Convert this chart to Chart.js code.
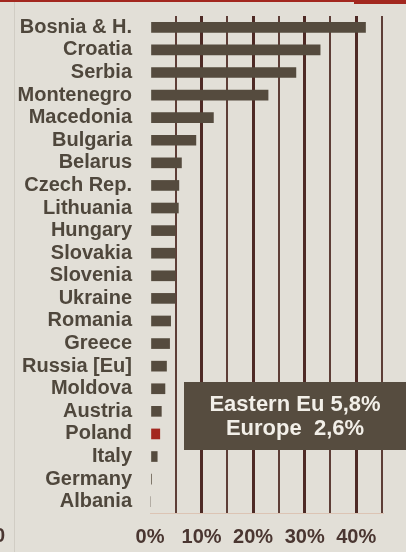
<!DOCTYPE html>
<html>
<head>
<meta charset="utf-8">
<script src="https://cdn.jsdelivr.net/npm/chart.js@4/dist/chart.umd.min.js"></script>
<style>
  html, body { margin: 0; padding: 0; background: #e2dfd7; overflow: hidden; }
  #wrap { position: relative; width: 406px; height: 552px; }
  canvas { display: block; }
</style>
</head>
<body>
<div id="wrap"><canvas id="c" width="406" height="552"></canvas></div>
<script>
const categories = ["Bosnia & H.", "Croatia", "Serbia", "Montenegro", "Macedonia", "Bulgaria",
  "Belarus", "Czech Rep.", "Lithuania", "Hungary", "Slovakia", "Slovenia", "Ukraine",
  "Romania", "Greece", "Russia [Eu]", "Moldova", "Austria", "Poland", "Italy", "Germany", "Albania"];
const values = [41.8, 33.0, 28.3, 22.9, 12.3, 8.9, 6.1, 5.6, 5.5, 4.9, 4.9, 4.9, 4.9,
  4.0, 3.8, 3.2, 2.9, 2.2, 1.9, 1.4, 0.3, 0];
const highlight = "Poland";
const boxLines = ["Eastern Eu 5,8%", "Europe  2,6%"];
const axisMax = 45;
const axisStep = 5;
const labelStep = 10;

const FONT = "'Liberation Sans', Arial, sans-serif";
const BG = "#e2dfd7";
const BAR = "#554b3e";
const RED = "#a3281f";

const decor = {
  id: 'decor',
  beforeDraw(chart) {
    const ctx = chart.ctx;
    ctx.save();
    ctx.fillStyle = BG;
    ctx.fillRect(0, 0, chart.width, chart.height);
    ctx.fillStyle = "#d1cdc4";
    ctx.fillRect(14, 0, 1, chart.height);
    ctx.fillStyle = RED;
    ctx.fillRect(0, 0, chart.width, 2);
    ctx.fillRect(354, 0, chart.width - 354, 4);
    ctx.fillStyle = "#4a3631";
    ctx.font = "bold 20px " + FONT;
    ctx.textAlign = "left";
    ctx.textBaseline = "middle";
    ctx.fillText("0", -6, 536);
    ctx.restore();
  },
  afterDraw(chart) {
    const ctx = chart.ctx;
    ctx.save();
    const x0 = 184, y0 = 382, w = 222, h = 68;
    ctx.fillStyle = "#564c3f";
    ctx.fillRect(x0, y0, w, h);
    ctx.fillStyle = "#f2efe8";
    ctx.font = "bold 22px " + FONT;
    ctx.textAlign = "center";
    ctx.textBaseline = "middle";
    ctx.fillText(boxLines[0], 295, 405);
    ctx.fillText(boxLines[1], 295, 429);
    ctx.restore();
  }
};

new Chart(document.getElementById('c'), {
  type: 'bar',
  data: {
    labels: categories,
    datasets: [{
      data: values,
      backgroundColor: categories.map(c => c === highlight ? RED : BAR),
      barThickness: 10,
      borderWidth: 0
    }]
  },
  options: {
    indexAxis: 'y',
    responsive: false,
    animation: false,
    devicePixelRatio: 1,
    layout: { padding: { top: 16, right: 24, left: 0, bottom: 0 } },
    plugins: { legend: { display: false }, tooltip: { enabled: false } },
    scales: {
      x: {
        min: 0, max: axisMax,
        afterFit(s) { s.height = 39; s.paddingLeft = 0; s.paddingRight = 0; },
        ticks: {
          stepSize: axisStep,
          autoSkip: false,
          maxRotation: 0,
          padding: 12,
          color: "#4a3631",
          font: { family: FONT, size: 20, weight: 'bold' },
          callback: v => (v % labelStep === 0 ? v + '%' : '')
        },
        grid: {
          drawTicks: false,
          color: c => c.tick && c.tick.value === 0 ? 'rgba(0,0,0,0)' :
            (c.tick && c.tick.value % labelStep === 0 ? "#4e2a25" : "#5e3e37"),
          lineWidth: c => c.tick && c.tick.value % labelStep === 0 ? 3 : 2
        },
        border: { display: true, color: "#dcc4b4", width: 1 }
      },
      y: {
        afterFit(s) { s.width = 150; s.paddingTop = 0; s.paddingBottom = 0; },
        ticks: {
          padding: 18,
          color: "#4f473c",
          font: { family: FONT, size: 20, weight: 'bold' },
          autoSkip: false
        },
        grid: { display: false, drawTicks: false },
        border: { display: false }
      }
    }
  },
  plugins: [decor]
});
</script>
</body>
</html>
